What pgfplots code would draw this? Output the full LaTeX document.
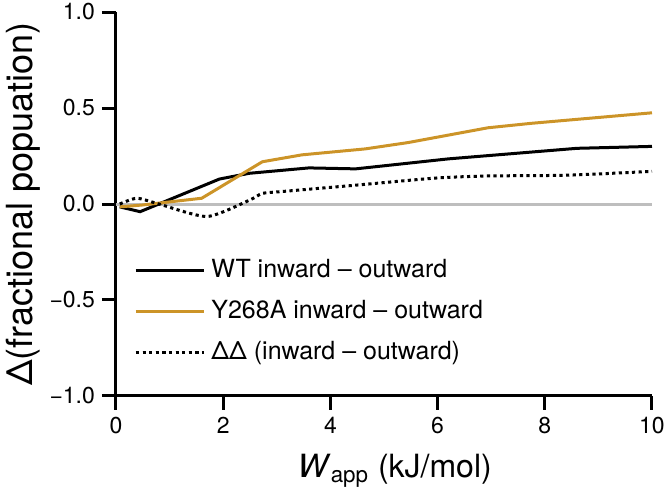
\documentclass[border=0pt]{standalone}
\usepackage{pgfplots}
\pgfplotsset{compat=1.18}
\usepackage{fontspec}
\setmainfont{TeX Gyre Heros}
\definecolor{gold}{RGB}{204,148,40}
\definecolor{zgray}{RGB}{190,190,190}
\begin{document}
\begin{tikzpicture}
\begin{axis}[
  scale only axis,
  width=268pt, height=192pt,
  xmin=0, xmax=10, ymin=-1, ymax=1,
  axis lines*=left,
  axis line style={line width=1.5pt},
  every tick/.style={line width=1.5pt, black},
  tick align=outside,
  major tick length=7pt,
  xtick={0,2,4,6,8,10},
  ytick={-1,-0.5,0,0.5,1},
  yticklabels={−1.0,−0.5,0.0,0.5,1.0},
  xticklabels={0,2,4,6,8,10},
  tick label style={font=\fontsize{11.5}{13.5}\selectfont},
  xlabel={\textit{W}\textsubscript{app} (kJ/mol)},
  ylabel={Δ(fractional popuation)},
  xlabel style={font=\fontsize{16}{18}\selectfont, at={(axis description cs:0.52,-0.211)}, anchor=base},
  ylabel style={font=\fontsize{18}{20}\selectfont, at={(axis description cs:-0.1725,0.5)}, anchor=center},
  clip=false,
  legend cell align=left,
  legend style={draw=none, fill=none, font=\fontsize{12.5}{14}\selectfont,
    at={(axis cs:0.336,-0.562)}, anchor=west, row sep=3pt, inner sep=0pt,
    nodes={inner sep=3pt, text height=9pt, text depth=2.5pt}},
  legend image code/.code={\draw[#1] (0pt,0pt) -- (30pt,0pt); \path (0pt,0pt) -- (34pt,0pt);},
]
\addplot[zgray, line width=1.5pt, forget plot] coordinates {(0,0) (10,0)};
\addplot[black, line width=1.5pt] coordinates {
(0.07,-0.015) (0.45,-0.04) (0.8,0.0) (1.93,0.13) (2.49,0.16) (3.6,0.188) (4.47,0.183) (6.2,0.235) (8.6,0.29) (10,0.30)};
\addlegendentry{WT inward – outward}
\addplot[gold, line width=1.5pt] coordinates {
(0.07,-0.015) (0.5,-0.005) (1.6,0.03) (2.73,0.22) (3.47,0.256) (4.65,0.287) (5.45,0.32) (6.94,0.397) (7.74,0.42) (10,0.475)};
\addlegendentry{Y268A inward – outward}
\addplot[black, line width=1.5pt, dash pattern=on 1.6pt off 1.7pt, smooth, tension=0.4] coordinates {
(0.07,0.0) (0.39,0.03) (0.8,0.0) (1.7,-0.065) (2.49,0.02) (2.73,0.055) (3.1,0.065) (4.47,0.098) (5.96,0.135) (6.94,0.146) (8.42,0.15) (10,0.17)};
\addlegendentry{ΔΔ (inward – outward)}
\end{axis}
\pgfresetboundingbox
\path[use as bounding box] ([shift={(-58pt,-46pt)}]current axis.south west) rectangle ([shift={(7pt,6pt)}]current axis.north east);
\end{tikzpicture}
\end{document}
